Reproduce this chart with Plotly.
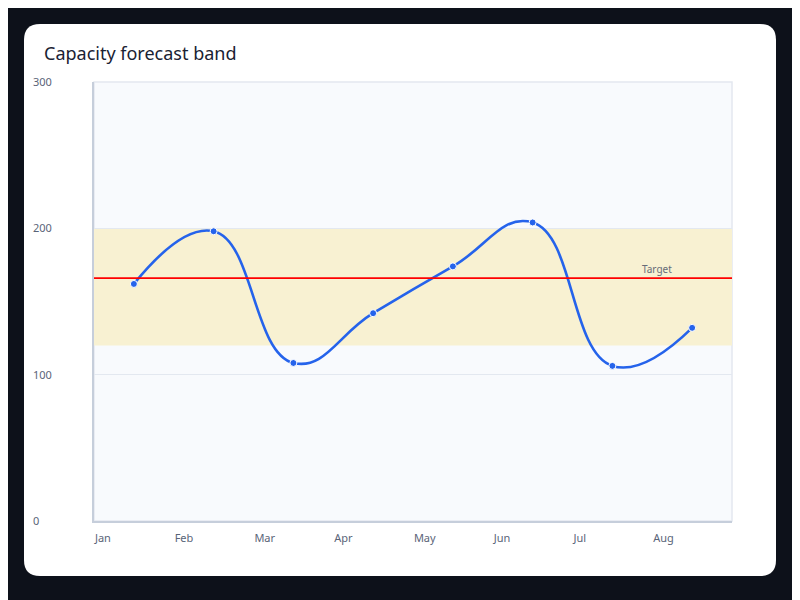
import plotly.graph_objects as go

# data
months = ["Jan", "Feb", "Mar", "Apr", "May", "Jun", "Jul", "Aug"]
capacity = [162, 198, 108, 142, 174, 204, 106, 132]
band_low, band_high = 120, 200
target = 166
y_ticks = [0, 100, 200, 300]

W, H = 800, 600
ML, MR, MT, MB = 86, 76, 74, 87


def card_path(x0, y0, x1, y1, r):
    # pixel box -> paper coords, rounded corners via quadratic curves
    pw, ph = W - ML - MR, H - MT - MB
    px = lambda v: (v - ML) / pw
    py = lambda v: (H - MB - v) / ph
    rx, ry = r / pw, r / ph
    a, b, c, d = px(x0), px(x1), py(y1), py(y0)
    return (f"M{a + rx},{d} L{b - rx},{d} Q{b},{d} {b},{d - ry} "
            f"L{b},{c + ry} Q{b},{c} {b - rx},{c} L{a + rx},{c} "
            f"Q{a},{c} {a},{c + ry} L{a},{d - ry} Q{a},{d} {a + rx},{d} Z")


fig = go.Figure()

fig.add_trace(go.Scatter(
    x=months, y=capacity, mode="lines+markers",
    line=dict(color="#2563eb", width=2.6, shape="spline", smoothing=1.3),
    marker=dict(size=7, color="#2563eb", line=dict(color="white", width=1)),
    showlegend=False))

fig.add_shape(type="path", path=card_path(16, 16, 768, 568, 16),
              xref="paper", yref="paper", fillcolor="white",
              line_width=0, layer="below")
fig.add_shape(type="rect", xref="x domain", yref="y domain", x0=0, x1=1, y0=0, y1=1,
              fillcolor="#f8fafd", line=dict(color="#e3e8f0", width=1.5), layer="below")
fig.add_shape(type="rect", xref="x domain", yref="y", x0=0, x1=1,
              y0=band_low, y1=band_high, fillcolor="#f8f1d2", line_width=0, layer="below")
fig.add_shape(type="line", xref="x domain", yref="y", x0=0, x1=1,
              y0=target, y1=target, line=dict(color="red", width=1.6))
fig.add_annotation(text="Target", xref="x domain", yref="y", x=0.883, y=target,
                   xanchor="center", yshift=9, showarrow=False,
                   font=dict(size=10, color="#666c78"))

fig.update_layout(
    width=W, height=H,
    margin=dict(l=ML, r=MR, t=MT, b=MB),
    paper_bgcolor="#0d111a", plot_bgcolor="rgba(0,0,0,0)",
    font=dict(family="Noto Sans", size=11, color="#5a6478"),
    title=dict(text="Capacity forecast band", x=36 / W, xref="container", xanchor="left",
               y=1 - 46 / H, yref="container", yanchor="middle",
               font=dict(size=18, color="#1a2233")),
)
fig.update_xaxes(
    range=[-0.5, len(months) - 0.5], showgrid=False, zeroline=False,
    showline=True, linecolor="#c6cedb", linewidth=2,
    ticklabelposition="outside right", ticklabelshift=-40, ticklabelstandoff=6, ticks="",
)
# pad short labels with figure spaces so they read left-aligned like the original
y_text = [str(v).ljust(3, "\u2007") for v in y_ticks]
fig.update_yaxes(
    range=[0, 300], tickvals=y_ticks, ticktext=y_text,
    showgrid=True, gridcolor="#e3e8f0", gridwidth=1,
    zeroline=False, showline=True, linecolor="#c6cedb", linewidth=2,
    ticklabelstandoff=38, ticks="",
)

fig.write_html("out.html")
